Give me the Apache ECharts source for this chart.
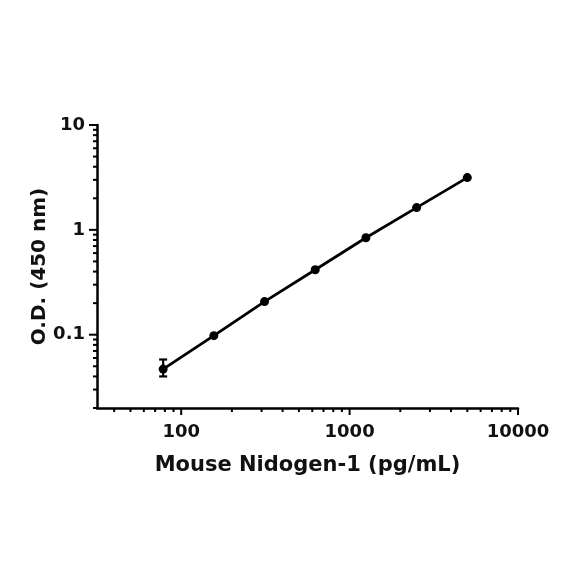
<!DOCTYPE html>
<html lang="en">
<head>
  <meta charset="UTF-8">
  <title>Mouse Nidogen-1 standard curve</title>
  <style>
    html, body { margin: 0; padding: 0; background: #fff; }
    #chart { width: 584px; height: 584px; }
  </style>
</head>
<body>
  <div id="chart"></div>
  <script src="https://cdn.jsdelivr.net/npm/echarts@6/dist/echarts.min.js"></script>
  <script>
    // concentration (pg/mL) and mean O.D.
    const concentrations = [78.125, 156.25, 312.5, 625, 1250, 2500, 5000];
    const odValues = [0.047, 0.098, 0.207, 0.416, 0.84, 1.63, 3.15];
    // error bar only visible on lowest standard
    const odLow = [0.040, null, null, null, null, null, null];
    const odHigh = [0.058, null, null, null, null, null, null];

    const xMin = 31.62, xMax = 10000;
    const yMin = 0.02, yMax = 10;
    const xMajorTicks = [100, 1000, 10000];
    const yMajorTicks = [0.1, 1, 10];

    // minor ticks at 2..9 of every decade inside the range
    function minorTicks(lo, hi) {
      const out = [];
      for (let e = Math.floor(Math.log10(lo)); e < Math.ceil(Math.log10(hi)); e++) {
        for (let m = 2; m <= 9; m++) {
          const v = m * Math.pow(10, e);
          if (v >= lo * 0.999 && v <= hi) out.push(v);
        }
      }
      return out;
    }
    const xMinorTicks = minorTicks(xMin, xMax);
    const yMinorTicks = minorTicks(yMin, yMax);

    const font = 'DejaVu Sans';
    const isPow10 = v => Math.abs(Math.log10(v) - Math.round(Math.log10(v))) < 1e-6;

    const chart = echarts.init(document.getElementById('chart'));

    const tickData = []
      .concat(xMajorTicks.map(v => ['x', v, 7]))
      .concat(xMinorTicks.map(v => ['x', v, 4]))
      .concat(yMajorTicks.map(v => ['y', v, 8]))
      .concat(yMinorTicks.map(v => ['y', v, 4]));

    chart.setOption({
      animation: false,
      grid: { left: 97, right: 66, top: 125, bottom: 176 },
      xAxis: {
        type: 'log',
        logBase: 10,
        min: xMin,
        max: xMax,
        name: 'Mouse Nidogen-1 (pg/mL)',
        nameLocation: 'middle',
        nameGap: 47,
        nameMoveOverlap: false,
        nameTextStyle: { fontFamily: font, fontWeight: 'bold', fontSize: 21, color: '#111' },
        axisLine: { lineStyle: { color: '#000', width: 2.5 } },
        axisTick: { show: false },
        splitLine: { show: false },
        axisLabel: {
          margin: 15,
          fontFamily: font, fontWeight: 'bold', fontSize: 18, color: '#111',
          formatter: v => (isPow10(v) && v >= 100 ? String(Math.round(v)) : '')
        }
      },
      yAxis: {
        type: 'log',
        logBase: 10,
        min: yMin,
        max: yMax,
        name: 'O.D. (450 nm)',
        nameLocation: 'middle',
        nameGap: 47,
        nameMoveOverlap: false,
        nameTextStyle: { fontFamily: font, fontWeight: 'bold', fontSize: 20, color: '#111' },
        axisLine: { lineStyle: { color: '#000', width: 2.5 } },
        axisTick: { show: false },
        splitLine: { show: false },
        axisLabel: {
          margin: 12,
          fontFamily: font, fontWeight: 'bold', fontSize: 18, color: '#111',
          formatter: v => (isPow10(v) && v >= 0.1 ? (v < 1 ? v.toFixed(1) : String(Math.round(v))) : '')
        }
      },
      series: [
        {
          type: 'line',
          data: concentrations.map((c, i) => [c, odValues[i]]),
          symbol: 'circle',
          symbolSize: 9,
          itemStyle: { color: '#000' },
          lineStyle: { color: '#000', width: 2.8 },
          z: 3
        },
        {
          type: 'custom',
          data: concentrations.map((c, i) => [c, odLow[i], odHigh[i]]).filter(d => d[1] != null),
          renderItem: (params, api) => {
            const lo = api.coord([api.value(0), api.value(1)]);
            const hi = api.coord([api.value(0), api.value(2)]);
            const w = 4;
            const style = { stroke: '#000', lineWidth: 2.2 };
            return {
              type: 'group',
              children: [
                { type: 'line', shape: { x1: lo[0], y1: lo[1], x2: hi[0], y2: hi[1] }, style },
                { type: 'line', shape: { x1: lo[0] - w, y1: lo[1], x2: lo[0] + w, y2: lo[1] }, style },
                { type: 'line', shape: { x1: hi[0] - w, y1: hi[1], x2: hi[0] + w, y2: hi[1] }, style }
              ]
            };
          },
          z: 2
        },
        {
          type: 'custom',
          silent: true,
          clip: false,
          data: tickData,
          encode: { x: 1 },
          renderItem: (params, api) => {
            const d = tickData[params.dataIndex];
            const style = { stroke: '#000', lineWidth: 2 };
            if (d[0] === 'x') {
              const p = api.coord([d[1], yMin]);
              return { type: 'line', shape: { x1: p[0], y1: p[1], x2: p[0], y2: p[1] + d[2] }, style };
            }
            const p = api.coord([xMin, d[1]]);
            return { type: 'line', shape: { x1: p[0], y1: p[1], x2: p[0] - d[2], y2: p[1] }, style };
          }
        }
      ]
    });
  </script>
</body>
</html>
